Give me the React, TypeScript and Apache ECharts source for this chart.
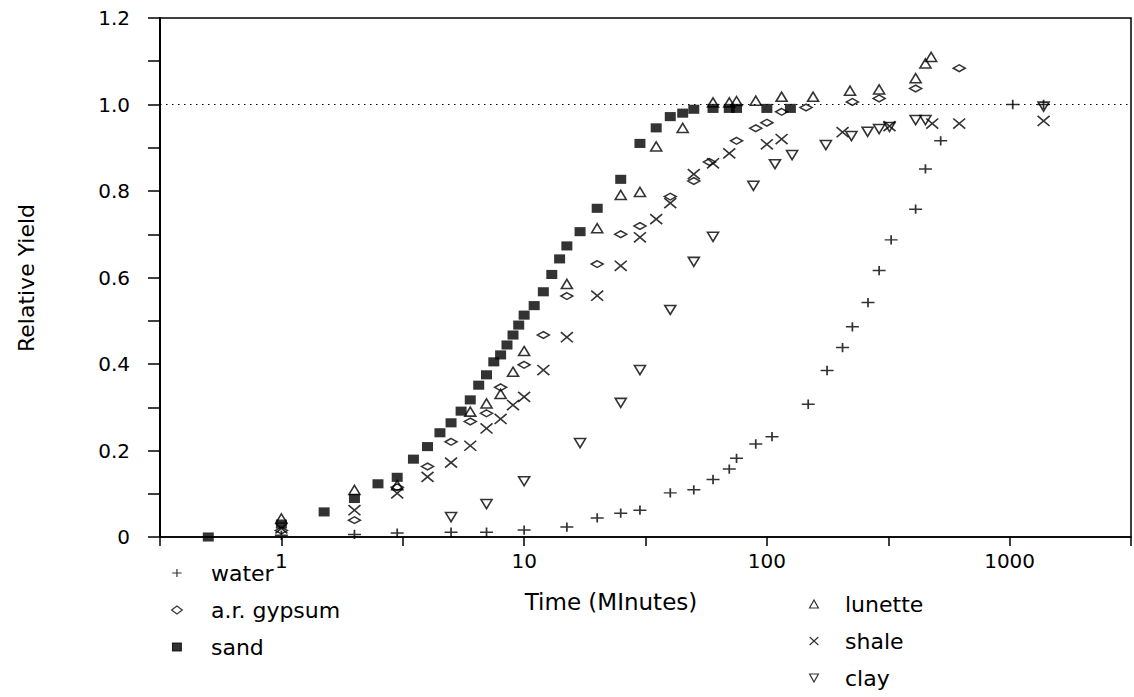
import React, { useEffect, useRef } from "react";
import * as echarts from "echarts";

// [time (minutes), relative yield]
const water: number[][] = [
  [1, 0.004], [2, 0.006], [3, 0.009], [5, 0.011], [7, 0.011], [10, 0.016], [15, 0.023],
  [20, 0.044], [25, 0.055], [30, 0.062], [40, 0.102], [50, 0.109], [60, 0.133], [70, 0.157],
  [75, 0.182], [90, 0.215], [105, 0.232], [148, 0.307], [177, 0.385], [205, 0.438],
  [225, 0.486], [261, 0.542], [290, 0.616], [325, 0.687], [410, 0.758], [450, 0.851],
  [520, 0.916], [1030, 1.0], [1380, 1.0],
];
const gypsum: number[][] = [
  [1, 0.015], [2, 0.039], [3, 0.115], [4, 0.163], [5, 0.22], [6, 0.267], [7, 0.286],
  [8, 0.346], [10, 0.398], [12, 0.467], [15, 0.557], [20, 0.631], [25, 0.7], [30, 0.719],
  [40, 0.787], [50, 0.823], [58, 0.867], [75, 0.916], [90, 0.945], [100, 0.958],
  [115, 0.983], [145, 0.993], [225, 1.006], [290, 1.014], [410, 1.037], [620, 1.084],
];
const sand: number[][] = [
  [0.5, 0], [1, 0.03], [1.5, 0.058], [2, 0.089], [2.5, 0.123], [3, 0.138], [3.5, 0.18],
  [4, 0.209], [4.5, 0.241], [5, 0.264], [5.5, 0.291], [6, 0.317], [6.5, 0.351], [7, 0.375],
  [7.5, 0.405], [8, 0.421], [8.5, 0.444], [9, 0.467], [9.5, 0.49], [10, 0.513], [11, 0.535],
  [12, 0.567], [13, 0.607], [14, 0.643], [15, 0.673], [17, 0.706], [20, 0.76], [25, 0.827],
  [30, 0.91], [35, 0.946], [40, 0.972], [45, 0.98], [50, 0.989], [60, 0.991], [70, 0.991],
  [75, 0.991], [100, 0.991], [125, 0.991],
];
const lunette: number[][] = [
  [1, 0.043], [2, 0.109], [3, 0.12], [6, 0.29], [7, 0.309], [8, 0.331], [9, 0.382],
  [10, 0.43], [15, 0.585], [20, 0.714], [25, 0.791], [30, 0.798], [35, 0.903], [45, 0.946],
  [60, 1.005], [70, 1.005], [75, 1.008], [90, 1.009], [115, 1.018], [155, 1.018],
  [220, 1.032], [290, 1.035], [410, 1.061], [450, 1.095], [475, 1.11],
];
const shale: number[][] = [
  [1, 0.02], [2, 0.062], [3, 0.101], [4, 0.139], [5, 0.172], [6, 0.211], [7, 0.251],
  [8, 0.273], [9, 0.305], [10, 0.324], [12, 0.386], [15, 0.462], [20, 0.558], [25, 0.627],
  [30, 0.693], [35, 0.735], [40, 0.772], [50, 0.839], [60, 0.864], [70, 0.887],
  [100, 0.908], [115, 0.92], [205, 0.936], [320, 0.95], [480, 0.956], [620, 0.956],
  [1380, 0.962],
];
const clay: number[][] = [
  [5, 0.046], [7, 0.076], [10, 0.129], [17, 0.217], [25, 0.31], [30, 0.386], [40, 0.525],
  [50, 0.636], [60, 0.694], [88, 0.812], [108, 0.862], [127, 0.883], [175, 0.906],
  [223, 0.927], [260, 0.937], [290, 0.943], [320, 0.948], [410, 0.964], [450, 0.964],
  [1380, 0.995],
];

const leftLegend = ["water", "a.r. gypsum", "sand"];
const rightLegend = ["lunette", "shale", "clay"];
const xTitle = "Time (MInutes)";
const yTitle = "Relative Yield";

const FONT = "DejaVu Sans";

const SYM = {
  plus: "path://M0,5.5L13,5.5M6.5,0L6.5,11",
  cross: "path://M0,0L12,11M12,0L0,11",
  diamond: "path://M6,0L12,4.5L6,9L0,4.5Z",
  square: "path://M0,0L11,0L11,10L0,10Z",
  up: "path://M5.5,0L11,10L0,10Z",
  down: "path://M0,0L11,0L5.5,10Z",
};

function scatter(name: string, data: number[][], symbol: string, size: number[], filled = false, extra: any = {}) {
  return {
    name,
    type: "scatter",
    data,
    symbol,
    symbolSize: size,
    symbolKeepAspect: true,
    itemStyle: filled
      ? { color: "#000", borderColor: "#000", borderWidth: 0 }
      : { color: "rgba(0,0,0,0)", borderColor: "#000", borderWidth: 1.6 },
    emphasis: { disabled: true },
    ...extra,
  };
}

export default function App() {
  const ref = useRef<HTMLDivElement>(null);
  useEffect(() => {
    const chart = echarts.init(ref.current!, null, { renderer: "svg" });
    const textBase = { fontFamily: FONT, color: "#000" };
    const legendBase = {
      orient: "vertical",
      itemHeight: 8,
      itemGap: 15,
      padding: 0,
      height: 120,
      selectedMode: false,
      itemStyle: { borderWidth: 1.2 },
      textStyle: { ...textBase, fontSize: 22, lineHeight: 22 },
    };
    chart.setOption({
      animation: false,
      backgroundColor: "#fff",
      grid: {
        left: 160, top: 18, width: 980, height: 519,
        show: true, borderColor: "#000", borderWidth: 1.5, backgroundColor: "transparent",
      },
      xAxis: [
        {
          type: "log",
          logBase: 10,
          min: Math.pow(10, -0.5),
          max: Math.pow(10, 3.5),
          position: "bottom",
          axisLine: { show: true, onZero: false, lineStyle: { color: "#000", width: 1.5 } },
          axisTick: { show: false },
          splitLine: { show: false },
          axisLabel: {
            ...textBase,
            fontSize: 20,
            margin: 14,
            formatter: (v: number) => {
              const l = Math.log10(v);
              return Math.abs(l - Math.round(l)) < 1e-6 ? String(Math.round(v)) : "";
            },
          },
        },
        {
          type: "value",
          min: -0.5,
          max: 3.5,
          interval: 0.5,
          position: "bottom",
          axisLine: { show: false, onZero: false },
          axisTick: { show: true, length: 9, lineStyle: { color: "#000", width: 1.5 } },
          axisLabel: { show: false },
          splitLine: { show: false },
        },
      ],
      yAxis: {
        type: "value",
        min: 0,
        max: 1.2,
        interval: 0.1,
        axisLine: { show: true, onZero: false, lineStyle: { color: "#000", width: 2 } },
        axisTick: { show: true, length: 12, lineStyle: { color: "#000", width: 1.5 } },
        splitLine: { show: false },
        axisLabel: {
          ...textBase,
          fontSize: 20,
          margin: 30,
          formatter: (v: number) => {
            const k = Math.round(v * 10);
            if (k % 2 !== 0) return "";
            return k === 0 ? "0" : (k / 10).toFixed(1);
          },
        },
      },
      legend: [
        { ...legendBase, data: leftLegend, left: 171, top: 562, itemWidth: 58 },
        { ...legendBase, data: rightLegend, left: 809, top: 593, itemWidth: 52 },
      ],
      graphic: [
        {
          type: "text",
          x: 611,
          y: 602,
          style: { text: xTitle, font: `23px '${FONT}'`, fill: "#000", align: "center", verticalAlign: "middle" },
        },
        {
          type: "text",
          x: 26,
          y: 278,
          rotation: Math.PI / 2,
          style: { text: yTitle, font: `22px '${FONT}'`, fill: "#000", align: "center", verticalAlign: "middle" },
        },
      ],
      series: [
        scatter("water", water, SYM.plus, [13, 11]),
        scatter("a.r. gypsum", gypsum, SYM.diamond, [12, 9]),
        scatter("sand", sand, SYM.square, [11, 10], true, {
          markLine: {
            silent: true,
            symbol: ["none", "none"],
            label: { show: false },
            lineStyle: { type: [1.5, 4.5], color: "#000", width: 1.2 },
            data: [{ yAxis: 1 }],
          },
        }),
        scatter("lunette", lunette, SYM.up, [11, 10]),
        scatter("shale", shale, SYM.cross, [12, 11]),
        scatter("clay", clay, SYM.down, [11, 10]),
      ],
    });
    return () => chart.dispose();
  }, []);
  return <div ref={ref} style={{ position: "fixed", left: 0, top: 0, width: 1134, height: 697 }} />;
}
